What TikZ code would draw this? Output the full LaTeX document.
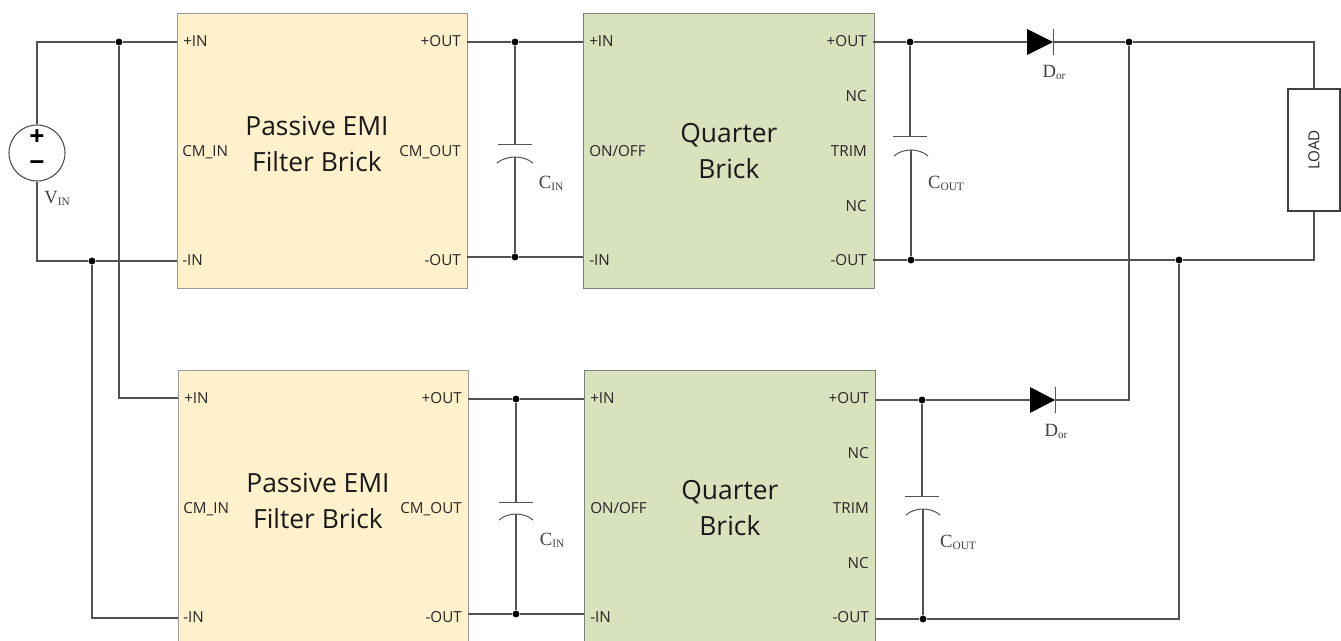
\documentclass[tikz,border=0pt]{standalone}
\usepackage{xcolor}
\usepackage{fontspec}
\setmainfont{Open Sans}
\newfontfamily\serifpart{Liberation Serif}
\usetikzlibrary{positioning,calc}
\definecolor{filterfill}{HTML}{FFF1CC}
\definecolor{brickfill}{HTML}{D8E2BD}
\newcommand{\partlabel}[2]{{\serifpart\fontsize{14}{14}\selectfont #1\raisebox{-1.5pt}{\fontsize{8.5}{9}\selectfont #2}}}

\begin{document}
\begin{tikzpicture}[
    x=0.75pt, y=-0.75pt,
    wire/.style={draw=black!68, line width=1pt},
    thin wire/.style={draw=black!68, line width=0.75pt},
    junction/.style={circle, fill=black, inner sep=0pt, minimum size=5.2pt},
    filter/.style={rectangle, draw=black!40, line width=0.8pt, fill=filterfill, anchor=north west, minimum width=217.5pt, minimum height=206.25pt, inner sep=0pt},
    brick/.style={rectangle, draw=black!50, line width=0.8pt, fill=brickfill, anchor=north west, minimum width=218pt, minimum height=206.25pt, inner sep=0pt, align=center, font=\fontsize{19.8}{27.5}\selectfont, text=black!90},
    title/.style={align=center, font=\fontsize{19.8}{27.5}\selectfont, text=black!90, inner sep=0pt},
    pinl/.style={anchor=west, inner sep=0pt, text height=8pt, text depth=0pt, font=\fontsize{11.4}{12}\selectfont, text=black!85},
    pinr/.style={anchor=east, inner sep=0pt, text height=8pt, text depth=0pt, font=\fontsize{11.4}{12}\selectfont, text=black!85},
    part/.style={inner sep=0pt, text=black!75}
]
    \useasboundingbox (0,0) rectangle (1341,641);
    \clip (0,0) rectangle (1341,641);

    % first branch
    \node [filter] (filter1) at (177,13) {};
    \node [brick] (brick1) at (583,13) {Quarter\\Brick};
    \node [title] (filtertitle1) at (317,144) {Passive EMI\\Filter Brick};

    % second branch
    \node [filter] (filter2) at (178,370) {};
    \node [brick] (brick2) at (584,370) {Quarter\\Brick};
    \node [title] (filtertitle2) at (318,501) {Passive EMI\\Filter Brick};

    \node [pinl] (f1a) at (183,41) {+IN};
    \node [pinl] (f1b) at (182,151) {CM\_IN};
    \node [pinl] (f1c) at (182,260) {-IN};
    \node [pinr] (f1d) at (461,41) {+OUT};
    \node [pinr] (f1e) at (461,151) {CM\_OUT};
    \node [pinr] (f1f) at (461,260) {-OUT};

    \node [pinl] (q1a) at (589,41) {+IN};
    \node [pinl] (q1b) at (589,151) {ON/OFF};
    \node [pinl] (q1c) at (589,260) {-IN};
    \node [pinr] (q1d) at (867,41) {+OUT};
    \node [pinr] (q1e) at (867,96) {NC};
    \node [pinr] (q1f) at (867,151) {TRIM};
    \node [pinr] (q1g) at (867,206) {NC};
    \node [pinr] (q1h) at (867,260) {-OUT};

    \node [pinl] (f2a) at (184,398) {+IN};
    \node [pinl] (f2b) at (183,508) {CM\_IN};
    \node [pinl] (f2c) at (183,617) {-IN};
    \node [pinr] (f2d) at (462,398) {+OUT};
    \node [pinr] (f2e) at (462,508) {CM\_OUT};
    \node [pinr] (f2f) at (462,617) {-OUT};

    \node [pinl] (q2a) at (590,398) {+IN};
    \node [pinl] (q2b) at (590,508) {ON/OFF};
    \node [pinl] (q2c) at (590,617) {-IN};
    \node [pinr] (q2d) at (869,398) {+OUT};
    \node [pinr] (q2e) at (869,453) {NC};
    \node [pinr] (q2f) at (869,508) {TRIM};
    \node [pinr] (q2g) at (869,563) {NC};
    \node [pinr] (q2h) at (869,617) {-OUT};

    % source and load
    \node [circle, draw=black!70, line width=0.8pt, fill=white, minimum size=42pt, inner sep=0pt] (vin) at (37,153) {};
    \node [inner sep=0pt, font=\bfseries\fontsize{20}{20}\selectfont] (vinplus) at (37,138) {+};
    \node [inner sep=0pt, font=\bfseries\fontsize{20}{20}\selectfont] (vinminus) at (37,166) {−};
    \node [rectangle, draw=black!75, line width=0.8pt, minimum width=91.5pt, minimum height=39pt, inner sep=0pt, rotate=90, font=\fontsize{11.4}{12}\selectfont, text=black!85] (load) at (1314,150) {LOAD};

    % ports on the box edges
    \coordinate (f1ip) at (177,42);
    \coordinate (f1in) at (177,261);
    \coordinate (f1op) at (467,42);
    \coordinate (f1on) at (467,257);
    \coordinate (q1ip) at (583,42);
    \coordinate (q1in) at (583,257);
    \coordinate (q1op) at (873,42);
    \coordinate (q1on) at (873,260);
    \coordinate (f2ip) at (178,398);
    \coordinate (f2in) at (178,618);
    \coordinate (f2op) at (468,399);
    \coordinate (f2on) at (468,614);
    \coordinate (q2ip) at (584,399);
    \coordinate (q2in) at (584,614);
    \coordinate (q2op) at (875,400);
    \coordinate (q2on) at (875,619);

    % junctions
    \node [junction] (jip) at (119,42) {};
    \node [junction] (jin) at (92,261) {};
    \node [junction] (c1p) at (515,42) {};
    \node [junction] (c1n) at (515,257) {};
    \node [junction] (o1p) at (910,42) {};
    \node [junction] (o1n) at (911,260) {};
    \node [junction] (jop) at (1129,42) {};
    \node [junction] (jon) at (1179,260) {};
    \node [junction] (c2p) at (516,399) {};
    \node [junction] (c2n) at (516,614) {};
    \node [junction] (o2p) at (922,400) {};
    \node [junction] (o2n) at (923,619) {};

    % capacitor plates
    \coordinate (c1top) at (515,145);
    \coordinate (c1bot) at (515,157);
    \coordinate (o1top) at (910,137);
    \coordinate (o1bot) at (911,150);
    \coordinate (c2top) at (516,502);
    \coordinate (c2bot) at (516,514);
    \coordinate (o2top) at (922,496);
    \coordinate (o2bot) at (923,509);

    \draw [thin wire] ($(c1top)+(-17,0)$) -- ($(c1top)+(17,0)$);
    \draw [thin wire] ($(c1bot)+(-18,6)$) .. controls ($(c1bot)+(-8,-2)$) and ($(c1bot)+(8,-2)$) .. ($(c1bot)+(18,6)$);
    \draw [thin wire] ($(o1top)+(-17,0)$) -- ($(o1top)+(17,0)$);
    \draw [thin wire] ($(o1bot)+(-17,6)$) .. controls ($(o1bot)+(-8,-2)$) and ($(o1bot)+(8,-2)$) .. ($(o1bot)+(17,6)$);
    \draw [thin wire] ($(c2top)+(-17,0)$) -- ($(c2top)+(17,0)$);
    \draw [thin wire] ($(c2bot)+(-17,6)$) .. controls ($(c2bot)+(-8,-2)$) and ($(c2bot)+(8,-2)$) .. ($(c2bot)+(17,6)$);
    \draw [thin wire] ($(o2top)+(-17,0)$) -- ($(o2top)+(17,0)$);
    \draw [thin wire] ($(o2bot)+(-17,6)$) .. controls ($(o2bot)+(-8,-2)$) and ($(o2bot)+(8,-2)$) .. ($(o2bot)+(17,6)$);

    % diodes
    \coordinate (d1a) at (1027,42);
    \coordinate (d1k) at (1053,42);
    \coordinate (d2a) at (1030,400);
    \coordinate (d2k) at (1055,400);
    \fill [black] ($(d1a)+(0,-13)$) -- (d1k) -- ($(d1a)+(0,13)$) -- cycle;
    \draw [thin wire] ($(d1k)+(0,-13)$) -- ($(d1k)+(0,13)$);
    \fill [black] ($(d2a)+(0,-13)$) -- (d2k) -- ($(d2a)+(0,13)$) -- cycle;
    \draw [thin wire] ($(d2k)+(0,-13)$) -- ($(d2k)+(0,13)$);

    % input rails
    \draw [wire] (vin.north) |- (jip);
    \draw [wire] (jip) -- (f1ip);
    \draw [wire] (vin.south) |- (jin);
    \draw [wire] (jin) -- (f1in);
    \draw [wire] (jip) |- (f2ip);
    \draw [wire] (jin) |- (f2in);

    % filter to brick
    \draw [wire] (f1op) -- (c1p);
    \draw [wire] (c1p) -- (q1ip);
    \draw [wire] (f1on) -- (c1n);
    \draw [wire] (c1n) -- (q1in);
    \draw [wire] (c1p) -- (c1top);
    \draw [wire] (c1bot) -- (c1n);
    \draw [wire] (f2op) -- (c2p);
    \draw [wire] (c2p) -- (q2ip);
    \draw [wire] (f2on) -- (c2n);
    \draw [wire] (c2n) -- (q2in);
    \draw [wire] (c2p) -- (c2top);
    \draw [wire] (c2bot) -- (c2n);

    % brick to load
    \draw [wire] (q1op) -- (o1p);
    \draw [wire] (o1p) -- (d1a);
    \draw [wire] (d1k) -- (jop);
    \draw [wire] (jop) -| (load.east);
    \draw [wire] (q1on) -- (o1n);
    \draw [wire] (o1n) -- (jon);
    \draw [wire] (jon) -| (load.west);
    \draw [wire] (o1p) -- (o1top);
    \draw [wire] (o1bot) -- (o1n);
    \draw [wire] (q2op) -- (o2p);
    \draw [wire] (o2p) -- (d2a);
    \draw [wire] (d2k) -| (jop);
    \draw [wire] (q2on) -- (o2n);
    \draw [wire] (o2n) -| (jon);
    \draw [wire] (o2p) -- (o2top);
    \draw [wire] (o2bot) -- (o2n);

    % part labels
    \node [part] (vinlabel) at (57,198) {\partlabel{V}{IN}};
    \node [part] (cin1) at (551,183) {\partlabel{C}{IN}};
    \node [part] (cout1) at (946,183) {\partlabel{C}{OUT}};
    \node [part] (dor1) at (1054,72) {\partlabel{D}{or}};
    \node [part] (cin2) at (552,540) {\partlabel{C}{IN}};
    \node [part] (cout2) at (958,542) {\partlabel{C}{OUT}};
    \node [part] (dor2) at (1056,431) {\partlabel{D}{or}};

\end{tikzpicture}
\end{document}
